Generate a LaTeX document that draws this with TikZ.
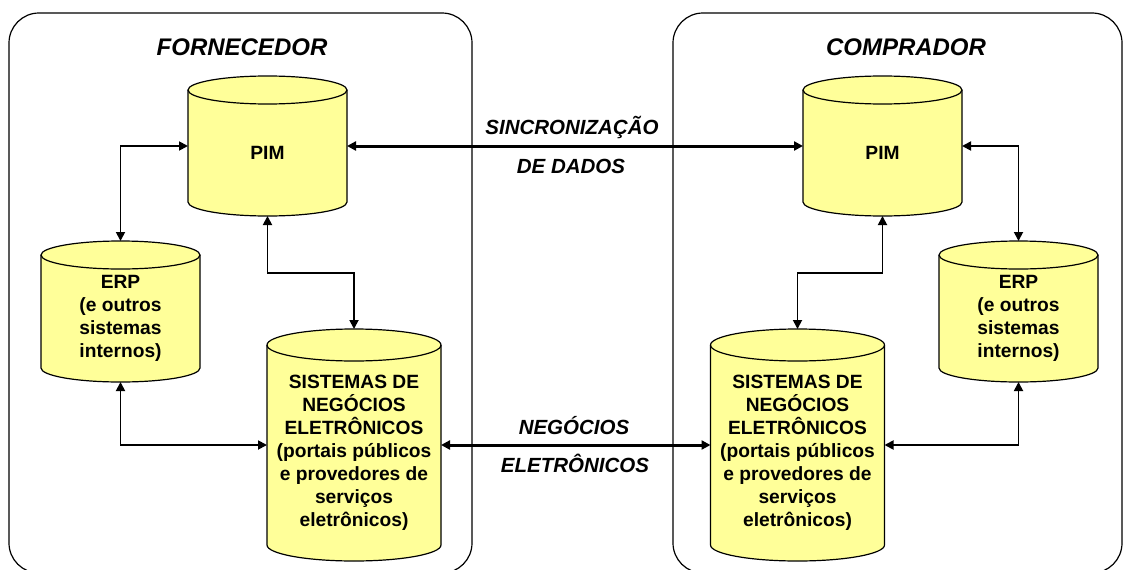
\documentclass[tikz,border=0pt]{standalone}
\usepackage{fontspec}
\setmainfont{Liberation Sans}
\usetikzlibrary{arrows.meta}
\definecolor{drumyellow}{HTML}{FFFF99}
\newcommand\drum[6]{%
  \node[drumbox,minimum width=#3,minimum height=#4] (#1) at (#2) {};
  \filldraw[drumline] ([yshift=-#5]#1.north west) -- ([yshift=#5]#1.south west)
    arc[start angle=180,end angle=360,x radius=#3/2,y radius=#5]
    -- ([yshift=-#5]#1.north east)
    arc[start angle=0,end angle=180,x radius=#3/2,y radius=#5] -- cycle;
  \draw[drumline,fill=none] ([yshift=-#5]#1.north west)
    arc[start angle=180,end angle=360,x radius=#3/2,y radius=#5];
  \node[drumtext] (#1t) at ([yshift=-#5/2]#1.center) {#6};}

\begin{document}
\begin{tikzpicture}[x=1pt,y=1pt,
  frame/.style={line width=1.2pt,rounded corners=30pt},
  drumbox/.style={rectangle,inner sep=0pt,outer sep=0pt},
  drumline/.style={line width=1.2pt,fill=drumyellow},
  drumtext/.style={font=\bfseries\fontsize{19.2}{23}\selectfont,align=center,inner sep=0pt},
  title/.style={font=\bfseries\itshape\fontsize{24}{28}\selectfont},
  flowlabel/.style={font=\bfseries\itshape\fontsize{20.5}{24}\selectfont,anchor=base},
  link/.style={line width=1.8pt,{Triangle[length=9pt,width=9pt]}-{Triangle[length=9pt,width=9pt]}},
  biglink/.style={link,line width=3pt}]
\useasboundingbox (0,0) rectangle (1124,-570);
\draw[frame] (9,-13) rectangle (472,-573);
\draw[frame] (673,-13) rectangle (1122,-573);
\node[title] (forn) at (242,-47) {FORNECEDOR};
\node[title] (comp) at (906,-47) {COMPRADOR};
% fornecedor
\drum{pimL}{267.5,-146}{159pt}{140pt}{14pt}{PIM}
\drum{erpL}{120.5,-311.5}{159pt}{141pt}{14pt}{ERP\\(e outros\\sistemas\\internos)}
\drum{sneL}{354,-445}{174pt}{232pt}{16pt}{SISTEMAS DE\\NEGÓCIOS\\ELETRÔNICOS\\(portais públicos\\e provedores de\\serviços\\eletrônicos)}
% comprador
\drum{pimR}{882.5,-146}{159pt}{140pt}{14pt}{PIM}
\drum{erpR}{1018.5,-311.5}{159pt}{141pt}{14pt}{ERP\\(e outros\\sistemas\\internos)}
\drum{sneR}{797.5,-445}{174pt}{232pt}{16pt}{SISTEMAS DE\\NEGÓCIOS\\ELETRÔNICOS\\(portais públicos\\e provedores de\\serviços\\eletrônicos)}
\draw[link] (erpL.north) |- (pimL.west);
\draw[link] (pimL.south) -- ++(0,-57) -| (sneL.north);
\draw[link] (erpL.south) |- (sneL.west);
\draw[link] (pimR.east) -| (erpR.north);
\draw[link] (pimR.south) -- ++(0,-57) -| (sneR.north);
\draw[link] (erpR.south) |- (sneR.east);
\draw[biglink] (pimL.east) -- (pimR.west);
\draw[biglink] (sneL.east) -- (sneR.west);
\node[flowlabel] (syncA) at (572,-134) {SINCRONIZAÇÃO};
\node[flowlabel] (syncB) at (571,-173) {DE DADOS};
\node[flowlabel] (ebizA) at (574,-434) {NEGÓCIOS};
\node[flowlabel] (ebizB) at (575,-472) {ELETRÔNICOS};
\end{tikzpicture}
\end{document}
